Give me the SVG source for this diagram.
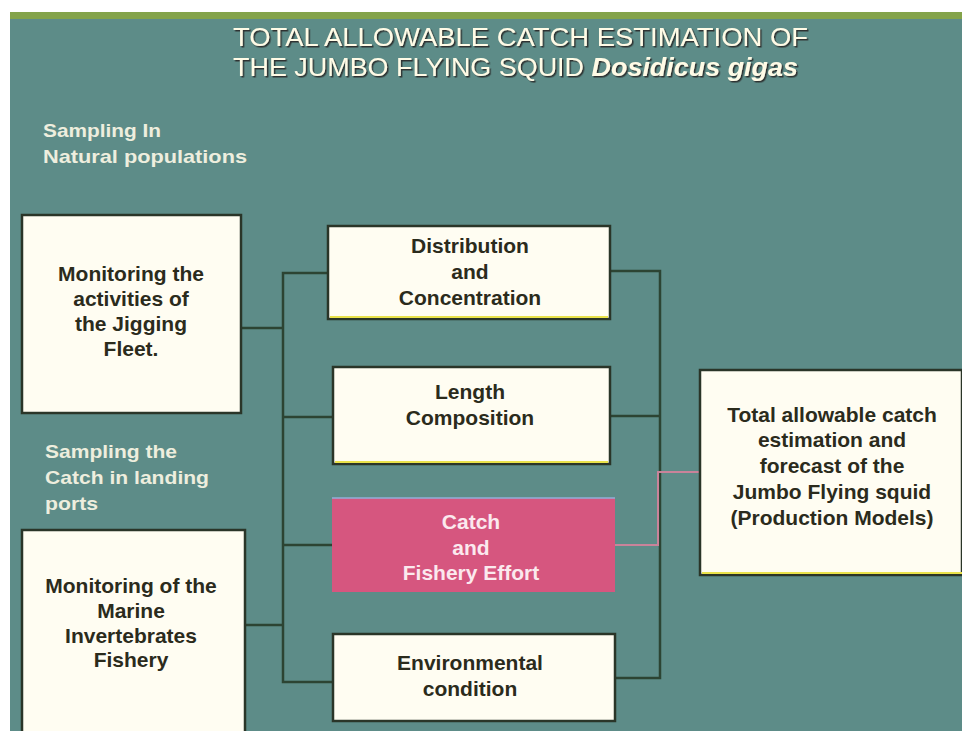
<svg xmlns="http://www.w3.org/2000/svg" width="962" height="731" viewBox="0 0 962 731">
<defs>
<style>
.bg{fill:#5d8c88}
.box{fill:#fffdf2;stroke:#2a3528;stroke-width:2.5}
.pink{fill:#d6567f;stroke:none}
.hl{stroke:#e9e24a;stroke-width:2}
.t{font-family:"Liberation Sans",Arial,sans-serif;font-weight:bold;font-size:21px;fill:#2b2b1c;text-anchor:middle}
.tw{font-family:"Liberation Sans",Arial,sans-serif;font-weight:bold;font-size:21px;fill:#fbe9ee;text-anchor:middle}
.lab{font-family:"Liberation Sans",Arial,sans-serif;font-weight:bold;font-size:19px;fill:#eeeede}
.title{font-family:"Liberation Sans",Arial,sans-serif;font-size:25px;fill:#fffbe6;filter:url(#sh)}
.c{fill:none;stroke:#2c4433;stroke-width:2.5}
.cp{fill:none;stroke:#c9839a;stroke-width:2}
</style>
<filter id="sh" x="-5%" y="-20%" width="110%" height="150%">
<feDropShadow dx="1.5" dy="1.5" stdDeviation="0.6" flood-color="#252a25" flood-opacity="0.9"/>
</filter>
</defs>
<rect x="0" y="0" width="962" height="731" fill="#ffffff"/>
<rect class="bg" x="10" y="12" width="952" height="719"/>
<rect x="10" y="12" width="952" height="7" fill="#84a34a"/>

<g id="title">
<text class="title" x="233" y="46" textLength="575" lengthAdjust="spacingAndGlyphs">TOTAL ALLOWABLE CATCH ESTIMATION OF</text>
<text class="title" x="233" y="76" textLength="565" lengthAdjust="spacingAndGlyphs">THE JUMBO FLYING SQUID <tspan font-weight="bold" font-style="italic">Dosidicus gigas</tspan></text>
</g>

<g id="label-natural">
<text class="lab" x="43" y="137" textLength="118" lengthAdjust="spacingAndGlyphs">Sampling In</text>
<text class="lab" x="43" y="163" textLength="204" lengthAdjust="spacingAndGlyphs">Natural  populations</text>
</g>
<g id="label-ports">
<text class="lab" x="45" y="458" textLength="132" lengthAdjust="spacingAndGlyphs">Sampling the</text>
<text class="lab" x="45" y="484" textLength="164" lengthAdjust="spacingAndGlyphs">Catch in landing</text>
<text class="lab" x="45" y="510" textLength="53" lengthAdjust="spacingAndGlyphs">ports</text>
</g>

<g id="connectors">
<polyline class="c" points="241,328 283,328"/>
<polyline class="c" points="245,625 283,625"/>
<polyline class="c" points="328,273 283,273 283,682 333,682"/>
<polyline class="c" points="283,417 333,417"/>
<polyline class="c" points="283,545 332,545"/>
<polyline class="c" points="610,271 660,271 660,678 615,678"/>
<polyline class="c" points="610,416 660,416"/>
<polyline class="cp" points="615,545 658,545 658,472 700,472"/>
</g>

<g id="node-jigging">
<rect class="box" x="22" y="215" width="219" height="198"/>
<text class="t" x="131" y="281">Monitoring the</text>
<text class="t" x="131" y="306">activities of</text>
<text class="t" x="131" y="331">the Jigging</text>
<text class="t" x="131" y="356">Fleet.</text>
</g>

<g id="node-invertebrates">
<rect class="box" x="22" y="530" width="223" height="205"/>
<text class="t" x="131" y="593">Monitoring of the</text>
<text class="t" x="131" y="618">Marine</text>
<text class="t" x="131" y="643">Invertebrates</text>
<text class="t" x="131" y="667">Fishery</text>
</g>

<g id="node-distribution">
<rect class="box" x="328" y="226" width="282" height="93"/>
<line class="hl" x1="330" y1="317" x2="608" y2="317"/>
<text class="t" x="470" y="253">Distribution</text>
<text class="t" x="470" y="279">and</text>
<text class="t" x="470" y="305">Concentration</text>
</g>

<g id="node-length">
<rect class="box" x="333" y="367" width="277" height="97"/>
<line class="hl" x1="335" y1="462" x2="608" y2="462"/>
<text class="t" x="470" y="399">Length</text>
<text class="t" x="470" y="425">Composition</text>
</g>

<g id="node-catch">
<rect class="pink" x="332" y="498" width="283" height="94"/>
<line x1="332" y1="498" x2="615" y2="498" stroke="#8fb0d8" stroke-width="1.5"/>
<text class="tw" x="471" y="529">Catch</text>
<text class="tw" x="471" y="555">and</text>
<text class="tw" x="471" y="580">Fishery Effort</text>
</g>

<g id="node-environment">
<rect class="box" x="333" y="634" width="282" height="87"/>
<text class="t" x="470" y="670">Environmental</text>
<text class="t" x="470" y="696">condition</text>
</g>

<g id="node-tac">
<rect class="box" x="700" y="370" width="262" height="205"/>
<line class="hl" x1="702" y1="573" x2="962" y2="573"/>
<text class="t" x="832" y="422">Total allowable catch</text>
<text class="t" x="832" y="447">estimation and</text>
<text class="t" x="832" y="473">forecast of the</text>
<text class="t" x="832" y="499">Jumbo Flying squid</text>
<text class="t" x="832" y="525">(Production Models)</text>
</g>
</svg>
